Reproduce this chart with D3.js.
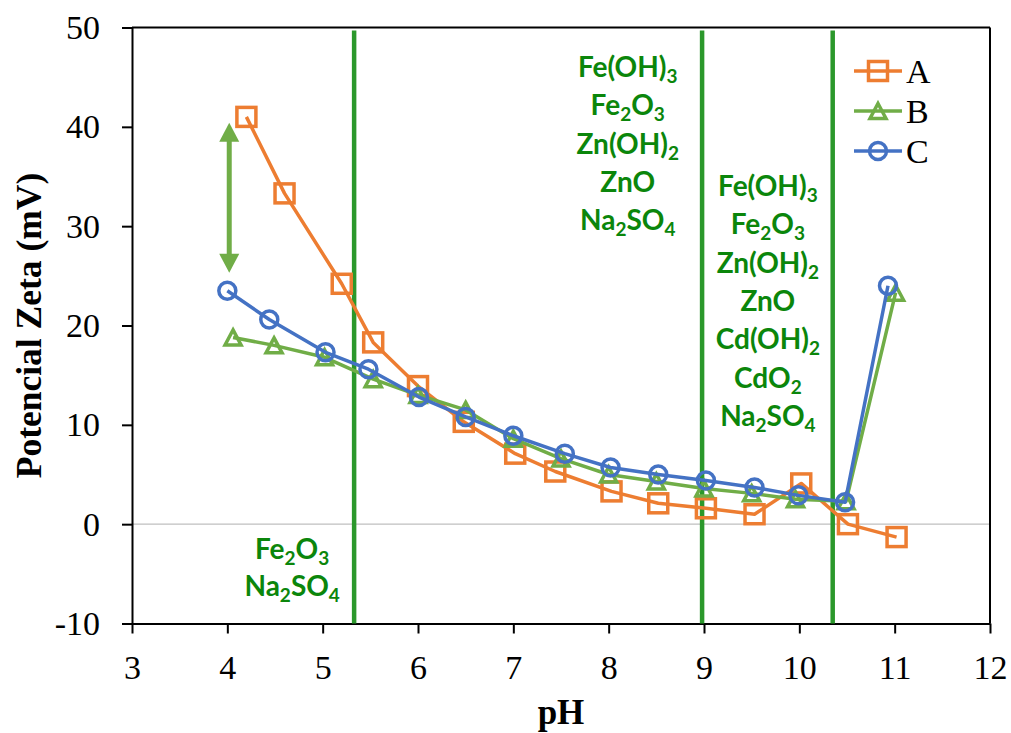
<!DOCTYPE html>
<html>
<head>
<meta charset="utf-8">
<script src="https://cdn.jsdelivr.net/npm/d3@7/dist/d3.min.js"></script>
<style>
  html, body { margin: 0; padding: 0; background: #fff; }
  svg { display: block; }
</style>
</head>
<body>
<svg id="chart" width="1011" height="733"></svg>
<script>
// Zeta potential vs pH for three samples
const seriesNames = ["A", "B", "C"];
const seriesColors = ["#ED7D31", "#70AD47", "#4472C4"];

const pHA   = [4.20, 4.60, 5.20, 5.53, 6.00, 6.48, 7.02, 7.44, 8.03, 8.52, 9.02, 9.53, 10.02, 10.51, 11.02];
const zetaA = [41.0, 33.3, 24.2, 18.3, 13.9, 10.3, 7.1, 5.3, 3.3, 2.1, 1.6, 1.0, 4.1, 0.0, -1.3];

const pHB   = [4.06, 4.49, 5.02, 5.53, 6.00, 6.50, 7.00, 7.50, 8.00, 8.50, 9.00, 9.50, 9.96, 10.49, 11.01];
const zetaB = [18.8, 18.0, 16.8, 14.6, 13.0, 11.5, 8.6, 6.6, 5.0, 4.3, 3.6, 3.1, 2.5, 2.3, 23.3];

const pHC   = [4.00, 4.44, 5.03, 5.48, 6.01, 6.50, 7.00, 7.54, 8.02, 8.52, 9.02, 9.53, 9.99, 10.48, 10.93];
const zetaC = [23.5, 20.6, 17.3, 15.6, 12.8, 10.8, 8.9, 7.1, 5.7, 5.0, 4.4, 3.7, 2.9, 2.2, 24.0];

const xTicks = [3, 4, 5, 6, 7, 8, 9, 10, 11, 12];
const yTicks = [-10, 0, 10, 20, 30, 40, 50];

// Phase boundaries (pH) and the species present in each region
const boundaries = [5.33, 8.98, 10.35];
const speciesLow  = [["Fe", "2", "O", "3"], ["Na", "2", "SO", "4"]];
const speciesMid  = [["Fe(OH)", "3"], ["Fe", "2", "O", "3"], ["Zn(OH)", "2"], ["ZnO"], ["Na", "2", "SO", "4"]];
const speciesHigh = [["Fe(OH)", "3"], ["Fe", "2", "O", "3"], ["Zn(OH)", "2"], ["ZnO"], ["Cd(OH)", "2"], ["CdO", "2"], ["Na", "2", "SO", "4"]];

// Double arrow marking the gap between A and C at low pH
const arrowPH = 4.02;
const arrowRange = [25.3, 40.4];

const svg = d3.select("#chart");
const plotLeft = 132, plotRight = 990, plotTop = 27.5, plotBottom = 623.5;

const x = d3.scaleLinear().domain([3, 12]).range([plotLeft, plotRight]);
const y = d3.scaleLinear().domain([-10, 50]).range([plotBottom, plotTop]);

const serif = "'Liberation Serif', 'Times New Roman', serif";
const labelFont = "Lato, 'Open Sans', sans-serif";
const labelColor = "#0b860b";
const boundaryColor = "#2b982b";

// zero reference line
svg.append("line")
  .attr("x1", plotLeft).attr("x2", plotRight)
  .attr("y1", y(0)).attr("y2", y(0))
  .attr("stroke", "#bfbfbf").attr("stroke-width", 1.2);

// frame: top and right
svg.append("line").attr("x1", plotLeft).attr("x2", plotRight).attr("y1", plotTop).attr("y2", plotTop)
  .attr("stroke", "#000").attr("stroke-width", 2);
svg.append("line").attr("x1", plotRight).attr("x2", plotRight).attr("y1", plotTop).attr("y2", plotBottom)
  .attr("stroke", "#000").attr("stroke-width", 2);

// axes (plain hyphen for negative numbers)
const plain = d => String(d);
const yAxis = d3.axisLeft(y).tickValues(yTicks).tickFormat(plain).tickSize(10).tickSizeOuter(0).tickPadding(22);
const xAxis = d3.axisBottom(x).tickValues(xTicks).tickFormat(plain).tickSize(10).tickSizeOuter(0).tickPadding(21);

const gy = svg.append("g").attr("transform", `translate(${plotLeft},0)`).call(yAxis);
const gx = svg.append("g").attr("transform", `translate(0,${plotBottom})`).call(xAxis);
[gx, gy].forEach(g => {
  g.select(".domain").attr("stroke", "#000").attr("stroke-width", 2);
  g.selectAll(".tick line").attr("stroke", "#000").attr("stroke-width", 2);
  g.selectAll(".tick text").attr("fill", "#000")
    .style("font-family", serif).style("font-size", "34px");
});

// axis titles
svg.append("text")
  .attr("transform", `translate(41,${(plotTop + plotBottom) / 2}) rotate(-90)`)
  .attr("text-anchor", "middle")
  .style("font-family", serif).style("font-size", "35.5px").style("font-weight", "bold")
  .text("Potencial Zeta (mV)");
svg.append("text")
  .attr("x", (plotLeft + plotRight) / 2).attr("y", 724)
  .attr("text-anchor", "middle")
  .style("font-family", serif).style("font-size", "35px").style("font-weight", "bold")
  .text("pH");

// phase boundaries
svg.selectAll(".boundary").data(boundaries).enter().append("line")
  .attr("class", "boundary")
  .attr("x1", d => x(d)).attr("x2", d => x(d))
  .attr("y1", y(49.7)).attr("y2", plotBottom)
  .attr("stroke", boundaryColor).attr("stroke-width", 4.5);

// species labels with subscripts
function speciesBlock(lines, cx, firstBaseline, step) {
  lines.forEach((parts, i) => {
    const t = svg.append("text")
      .attr("x", cx).attr("y", firstBaseline + i * step)
      .attr("text-anchor", "middle")
      .attr("fill", labelColor)
      .style("font-family", labelFont).style("font-size", "28px").style("font-weight", "bold");
    parts.forEach((p, j) => {
      const sub = j % 2 === 1;
      t.append("tspan")
        .attr("dy", sub ? 6 : (j > 0 ? -6 : 0))
        .style("font-size", sub ? "19px" : "28px")
        .text(p);
    });
  });
}
speciesBlock(speciesMid, x(8.20), 77, 38.3);
speciesBlock(speciesHigh, x(9.67), 196, 38.3);
speciesBlock(speciesLow, x(4.68), 559, 37);

// double-headed arrow
(function () {
  const ax = x(arrowPH), y1 = y(arrowRange[1]), y2 = y(arrowRange[0]);
  const hw = 10, hl = 19, c = "#70AD47";
  svg.append("line").attr("x1", ax).attr("x2", ax)
    .attr("y1", y1 + hl - 2).attr("y2", y2 - hl + 2)
    .attr("stroke", c).attr("stroke-width", 5);
  svg.append("path")
    .attr("d", `M${ax},${y1} L${ax + hw},${y1 + hl} L${ax - hw},${y1 + hl} Z`)
    .attr("fill", c);
  svg.append("path")
    .attr("d", `M${ax},${y2} L${ax + hw},${y2 - hl} L${ax - hw},${y2 - hl} Z`)
    .attr("fill", c);
})();

// markers
function drawMarker(g, kind, cx, cy, color) {
  if (kind === "square") {
    g.append("rect").attr("x", cx - 9.5).attr("y", cy - 9.5).attr("width", 19).attr("height", 19)
      .attr("fill", "none").attr("stroke", color).attr("stroke-width", 3.5);
  } else if (kind === "triangle") {
    const h = 15, w = 16;
    g.append("path")
      .attr("d", `M${cx},${cy - h / 2} L${cx + w / 2},${cy + h / 2} L${cx - w / 2},${cy + h / 2} Z`)
      .attr("fill", "none").attr("stroke", color).attr("stroke-width", 3.5).attr("stroke-linejoin", "miter");
  } else {
    g.append("circle").attr("cx", cx).attr("cy", cy).attr("r", 8.5)
      .attr("fill", "none").attr("stroke", color).attr("stroke-width", 3.5);
  }
}

const series = [
  { name: seriesNames[0], color: seriesColors[0], marker: "square",   xs: pHA, ys: zetaA },
  { name: seriesNames[1], color: seriesColors[1], marker: "triangle", xs: pHB, ys: zetaB },
  { name: seriesNames[2], color: seriesColors[2], marker: "circle",   xs: pHC, ys: zetaC }
];

const line = d3.line().x(d => x(d[0])).y(d => y(d[1]));

series.forEach(s => {
  const g = svg.append("g");
  const pts = s.xs.map((v, i) => [v, s.ys[i]]);
  g.append("path").datum(pts).attr("d", line)
    .attr("fill", "none").attr("stroke", s.color).attr("stroke-width", 3.5)
    .attr("stroke-linejoin", "round");
  pts.forEach(p => drawMarker(g, s.marker, x(p[0]), y(p[1]), s.color));
});

// legend
const legend = svg.append("g");
series.forEach((s, i) => {
  const ly = 71 + i * 40;
  legend.append("line").attr("x1", 854).attr("x2", 902).attr("y1", ly).attr("y2", ly)
    .attr("stroke", s.color).attr("stroke-width", 3.5);
  drawMarker(legend, s.marker, 878, ly, s.color);
  legend.append("text").attr("x", 906).attr("y", ly + 12)
    .style("font-family", serif).style("font-size", "34px").attr("fill", "#000")
    .text(s.name);
});
</script>
</body>
</html>
